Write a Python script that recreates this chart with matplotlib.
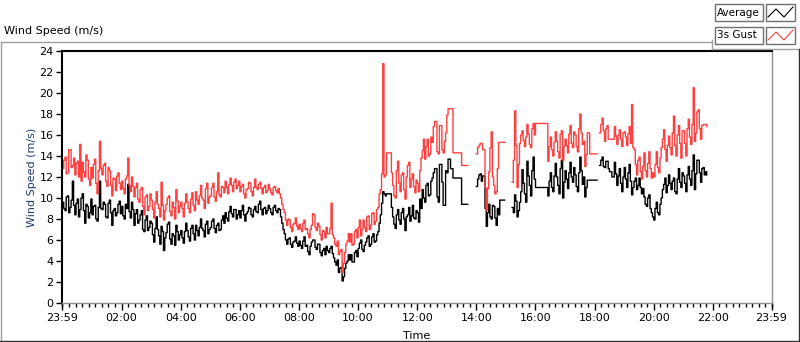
import numpy as np
import matplotlib.pyplot as plt
from matplotlib.lines import Line2D
from matplotlib.patches import Rectangle

nan = np.nan

# 2.5-minute samples, one row per hour (hours since midnight)
avg_rows = [
    [9.6, 9.0, 8.8, 10.1, 10.2, 8.6, 9.1, 9.8, 11.6, 9.3, 8.4, 9.5,
     9.9, 8.2, 8.9, 10.0, 10.4, 8.8, 7.6, 9.4, 9.2, 8.1, 8.6, 9.9],
    [8.4, 9.2, 9.3, 8.0, 7.8, 9.1, 11.6, 9.0, 8.9, 9.6, 9.4, 8.2,
     8.1, 9.5, 9.8, 8.6, 7.4, 8.8, 9.0, 8.3, 8.6, 9.4, 9.7, 8.5],
    [9.2, 8.3, 8.0, 9.4, 9.0, 11.3, 8.7, 8.1, 9.6, 8.9, 7.4, 8.5,
     8.9, 7.6, 7.9, 8.4, 8.8, 7.0, 6.8, 7.9, 8.3, 6.9, 7.2, 7.8],
    [7.6, 6.5, 5.8, 7.1, 8.2, 7.0, 6.4, 5.6, 7.3, 6.8, 5.0, 6.2,
     6.7, 7.5, 7.7, 6.1, 5.6, 6.6, 6.4, 5.5, 7.4, 6.8, 6.0, 6.5],
    [6.9, 6.2, 5.7, 6.8, 7.6, 6.9, 6.3, 5.9, 7.1, 7.4, 6.6, 6.0,
     7.4, 6.9, 6.4, 7.2, 8.0, 7.1, 6.9, 6.3, 7.5, 7.8, 6.6, 7.0],
    [7.2, 7.8, 8.0, 7.1, 6.7, 7.4, 7.6, 6.9, 7.0, 7.9, 8.3, 7.6,
     8.6, 8.1, 7.8, 8.7, 9.2, 8.5, 8.2, 8.9, 8.9, 8.0, 8.4, 8.8],
    [8.1, 8.8, 9.3, 8.4, 7.8, 8.5, 8.7, 9.1, 9.0, 8.4, 8.2, 8.9,
     9.2, 8.7, 8.6, 9.4, 9.7, 8.9, 8.4, 9.0, 9.1, 8.5, 8.8, 9.3],
    [9.0, 8.6, 8.4, 9.1, 9.3, 8.8, 8.6, 9.0, 8.9, 8.2, 7.6, 7.0,
     6.6, 6.0, 5.6, 6.1, 6.2, 5.6, 5.3, 5.8, 5.9, 6.3, 5.7, 5.4],
    [5.9, 5.5, 5.2, 5.9, 6.3, 5.4, 5.5, 4.9, 4.6, 5.4, 5.8, 6.0,
     6.0, 5.3, 5.1, 5.6, 5.6, 4.8, 4.5, 5.0, 5.2, 4.6, 5.4, 5.0],
    [4.8, 5.2, 5.4, 4.7, 4.3, 3.9, 3.6, 4.1, 2.9, 3.3, 3.4, 2.1,
     2.5, 3.3, 3.8, 4.0, 4.6, 4.1, 4.6, 3.9, 3.9, 4.8, 5.0, 4.4],
    [5.2, 5.7, 6.0, 5.1, 4.9, 5.5, 5.8, 6.2, 6.4, 5.4, 5.6, 6.3,
     6.6, 5.8, 5.9, 6.5, 6.8, 7.6, 8.4, 9.5, 10.6, 10.4, 10.2, 10.4],
    [10.4, 10.4, 10.4, 9.1, 8.2, 7.5, 7.1, 8.4, 8.9, 7.9, 7.5, 8.6,
     9.0, 8.0, 6.9, 8.2, 8.4, 9.1, 7.8, 8.3, 9.3, 8.1, 8.0, 8.8],
    [8.6, 7.7, 9.9, 9.0, 10.8, 10.0, 9.6, 11.2, 11.4, 10.2, 10.3, 11.6,
     11.9, 12.4, 12.8, 12.8, 10.1, 9.6, 13.2, 13.2, 11.5, 9.3, 9.3, 12.6],
    [12.4, 13.7, 13.7, 12.8, 12.8, 11.9, 11.9, 11.9, 11.9, 11.9, 11.9, 11.9,
     9.4, 9.4, 9.4, 9.4, 9.4, nan, nan, nan, nan, nan, nan, nan],
    [11.1, 11.8, 12.2, 12.3, 11.6, 12.1, 12.1, 9.0, 7.3, 8.6, 9.4, 8.2,
     8.0, 9.3, 9.2, 8.1, 7.4, 9.0, 8.4, 9.8, 9.8, 9.8, 9.8, nan],
    [nan, nan, nan, nan, nan, 9.1, 8.6, 10.3, 9.7, 8.2, 8.8, 9.6,
     10.6, 12.7, 11.4, 10.4, 9.6, 13.5, 12.1, 11.2, 10.2, 12.6, 13.9, 11.8],
    [11.0, 11.0, 11.0, 11.0, 11.0, 11.0, 11.0, 11.0, 11.0, 11.0, 10.2, 11.6,
     12.4, 11.0, 10.6, 12.1, 13.3, 12.0, 11.2, 10.4, 12.8, 13.6, 10.0, 11.5],
    [12.6, 11.8, 10.9, 12.4, 13.4, 12.0, 11.5, 12.9, 12.2, 11.1, 10.6, 12.4,
     13.9, 12.6, 11.3, 12.0, 10.1, 11.0, 11.7, 11.7, 11.7, 11.7, 11.7, 11.7],
    [11.7, 11.7, nan, nan, 13.1, 13.6, 13.9, 13.0, 12.9, 13.5, 13.5, 12.8,
     12.5, 12.5, 12.0, 12.0, 13.4, 12.3, 11.2, 12.1, 12.8, 11.4, 10.6, 12.0],
    [12.9, 11.8, 11.0, 12.4, 13.2, 11.6, 10.3, 11.0, 11.6, 11.9, 10.8, 11.2,
     11.9, 11.0, 10.4, 10.9, 10.1, 9.4, 9.2, 10.0, 10.3, 9.0, 8.6, 8.2],
    [7.9, 9.0, 9.6, 8.6, 8.4, 9.4, 10.0, 10.8, 11.3, 11.9, 10.5, 11.2,
     12.2, 11.4, 10.8, 11.6, 11.9, 10.6, 10.4, 11.8, 12.8, 11.5, 11.0, 12.4],
    [12.1, 11.4, 10.6, 12.2, 13.0, 11.8, 11.2, 12.6, 14.1, 10.8, 12.3, 13.6,
     13.6, 12.4, 11.5, 12.8, 12.9, 12.2, 12.5, 12.2],
]
gust_rows = [
    [12.8, 13.6, 13.9, 12.3, 12.4, 14.6, 14.6, 12.9, 13.1, 13.8, 12.2, 13.3,
     13.5, 12.0, 15.1, 11.6, 13.4, 12.5, 12.0, 14.1, 13.6, 11.8, 11.2, 12.9],
    [11.9, 13.2, 13.7, 11.4, 10.4, 12.6, 15.4, 12.8, 12.2, 13.1, 13.3, 11.6,
     11.1, 12.9, 12.6, 11.2, 10.2, 11.9, 11.8, 10.7, 12.1, 12.4, 11.4, 10.8],
    [11.6, 10.9, 10.4, 11.8, 12.1, 13.8, 11.2, 10.6, 12.0, 11.1, 10.1, 11.0,
     11.4, 9.9, 9.6, 10.8, 11.0, 9.2, 8.4, 10.1, 10.3, 8.8, 9.2, 10.4],
    [9.8, 8.9, 8.1, 9.6, 10.6, 9.4, 9.0, 8.2, 11.5, 9.3, 7.9, 8.8,
     9.4, 10.0, 10.2, 8.7, 8.3, 9.6, 9.1, 8.0, 10.8, 9.7, 8.6, 9.2],
    [9.6, 9.0, 8.2, 9.5, 10.4, 9.6, 9.0, 8.6, 9.9, 10.5, 9.3, 8.8,
     10.6, 9.8, 9.4, 10.2, 11.2, 10.0, 9.8, 9.0, 10.9, 11.4, 9.5, 10.1],
    [10.2, 11.0, 11.4, 10.1, 9.7, 10.6, 12.4, 10.3, 10.1, 11.1, 11.0, 10.5,
     11.6, 11.0, 10.4, 11.3, 11.9, 11.2, 10.6, 11.5, 11.8, 10.9, 11.2, 11.6],
    [10.6, 11.1, 11.3, 10.4, 10.0, 10.8, 10.9, 11.5, 11.4, 10.6, 10.2, 11.0,
     11.8, 11.0, 10.8, 11.3, 11.5, 10.9, 10.4, 11.0, 11.2, 10.5, 10.7, 11.3],
    [10.9, 10.5, 10.3, 11.0, 11.1, 10.7, 10.5, 10.9, 10.4, 10.0, 9.4, 8.9,
     8.6, 7.9, 7.4, 8.0, 7.9, 7.2, 6.8, 7.5, 7.6, 8.1, 7.3, 7.0],
    [7.5, 7.1, 6.8, 7.6, 7.9, 7.0, 7.1, 6.6, 6.2, 7.0, 7.4, 8.5,
     8.4, 7.2, 6.9, 7.6, 7.3, 6.5, 6.0, 6.9, 6.8, 6.2, 7.2, 6.6],
    [6.6, 7.1, 9.5, 6.5, 6.2, 5.6, 5.4, 5.9, 4.6, 4.9, 5.1, 2.9,
     3.8, 4.8, 5.6, 5.9, 6.6, 5.8, 6.6, 5.5, 5.6, 6.8, 7.0, 6.2],
    [7.2, 7.9, 6.4, 7.0, 7.9, 7.2, 6.8, 8.2, 8.3, 7.0, 7.4, 8.5,
     8.6, 7.5, 7.8, 8.9, 9.1, 10.4, 10.8, 12.3, 22.8, 12.0, 12.2, 14.3],
    [14.3, 14.3, 14.3, 12.4, 11.2, 10.2, 10.0, 12.6, 13.5, 11.4, 10.6, 12.2,
     12.4, 10.8, 9.9, 12.0, 13.1, 13.4, 11.0, 11.8, 12.3, 11.1, 10.5, 11.7],
    [11.4, 10.6, 12.6, 13.8, 14.5, 15.6, 13.7, 14.9, 15.6, 14.0, 14.2, 15.8,
     15.3, 16.8, 17.3, 17.3, 14.4, 14.2, 16.9, 16.9, 14.6, 14.3, 15.4, 16.2],
    [17.9, 18.5, 18.5, 18.5, 18.5, 14.3, 14.3, 14.3, 14.3, 14.3, 14.3, 14.3,
     13.1, 13.1, 13.1, 13.1, 13.1, nan, nan, nan, nan, nan, nan, nan],
    [14.2, 14.8, 15.0, 15.2, 15.2, 14.6, 14.6, 11.0, 8.8, 10.9, 12.5, 14.8,
     16.3, 12.0, 11.2, 10.4, 10.6, 12.8, 15.3, 15.3, 15.3, 15.3, 15.3, nan],
    [nan, nan, nan, nan, nan, 11.5, 13.6, 18.3, 15.0, 11.0, 13.2, 15.2,
     16.0, 16.4, 15.5, 14.9, 15.8, 17.0, 16.1, 15.1, 14.8, 16.6, 17.1, 16.0],
    [17.1, 17.1, 17.1, 17.1, 17.1, 17.1, 17.1, 17.1, 17.1, 17.1, 13.5, 14.9,
     15.8, 14.6, 14.0, 15.3, 16.3, 15.4, 14.4, 13.8, 16.1, 16.4, 13.6, 14.9],
    [15.6, 15.0, 14.3, 16.1, 16.9, 15.2, 14.8, 16.3, 16.0, 14.9, 14.4, 16.6,
     18.0, 16.2, 15.1, 15.4, 13.0, 14.1, 16.2, 16.2, 14.2, 14.2, 14.2, 14.2],
    [14.2, 14.2, nan, nan, 16.2, 17.0, 17.6, 16.4, 15.4, 16.6, 16.9, 15.6,
     15.6, 15.6, 15.6, 15.6, 16.8, 15.9, 15.1, 16.0, 16.5, 15.6, 14.9, 16.2],
    [16.3, 15.8, 15.0, 16.1, 16.8, 15.2, 18.9, 14.8, 14.6, 13.2, 12.2, 13.6,
     13.9, 12.5, 11.8, 13.0, 14.3, 12.6, 12.0, 13.3, 14.4, 12.8, 11.9, 12.4],
    [12.0, 13.2, 14.4, 12.9, 12.4, 13.8, 14.8, 15.6, 16.5, 14.6, 13.5, 15.0,
     15.9, 14.8, 14.1, 16.2, 17.8, 15.0, 14.0, 16.0, 16.9, 15.2, 13.8, 16.4],
    [16.4, 15.2, 14.0, 16.6, 17.5, 15.8, 15.1, 17.0, 20.5, 15.4, 16.2, 18.2,
     18.4, 16.6, 15.6, 16.9, 17.0, 17.0, 17.0, 16.8],
]

avg = np.array([v for row in avg_rows for v in row])
gust = np.array([v for row in gust_rows for v in row])
hours = np.arange(len(avg)) / 24.0

xticks = [-1/60] + list(range(2, 23, 2)) + [24 - 1/60]
xlabels = ['23:59'] + ['%02d:00' % h for h in range(2, 23, 2)] + ['23:59']

W, H = 800, 342
plt.rcParams['font.family'] = ['DejaVu Sans']
fig = plt.figure(figsize=(W/100, H/100), dpi=100)

def fx(x):
    return x / W

def fy(y):
    return 1 - y / H

ax = fig.add_axes([fx(62), fy(303), fx(772) - fx(62), fy(51) - fy(303)])
ax.plot(hours, avg, color='black', lw=1.0, drawstyle='steps-post')
ax.plot(hours, gust, color='#ff4040', lw=1.0, drawstyle='steps-post')

ax.set_xlim(-1/60, 24 - 1/60)
ax.set_ylim(0, 24)
ax.set_yticks(range(0, 25, 2))
ax.set_xticks(xticks)
ax.set_xticklabels(xlabels)
ax.set_xticks(np.arange(0, 24.01, 2/9), minor=True)
ax.tick_params(axis='x', which='major', length=5, width=1, labelsize=8, pad=2)
ax.tick_params(axis='x', which='minor', length=3, width=1)
ax.tick_params(axis='y', length=4, width=1, labelsize=8, pad=2)
for s in ['top', 'left']:
    ax.spines[s].set_color('black')
    ax.spines[s].set_linewidth(1.5)
for s in ['right', 'bottom']:
    ax.spines[s].set_color('#909090')
    ax.spines[s].set_linewidth(1)
ax.set_xlabel('Time', fontsize=8, labelpad=6)
ax.set_ylabel('Wind Speed (m/s)', fontsize=8, color='#1f3a6b', labelpad=2)

# outer panel
def fline(xs, ys, color, lw=1):
    fig.add_artist(Line2D([fx(x) for x in xs], [fy(y) for y in ys], color=color, lw=lw))

fline([0.5, 712], [42, 42], '#a0a0a0')
fline([712, 712], [40, 49], '#a0a0a0')
fline([712, 800], [49, 49], '#a0a0a0')
fline([0.5, 0.5], [42, 341], '#a0a0a0')
fline([0, 799], [340.5, 340.5], '#303030')
fline([798.5, 798.5], [49, 341], '#303030')

fig.text(fx(4), fy(31), 'Wind Speed (m/s)', fontsize=8, ha='left', va='center')

# legend
names = ['Average', '3s Gust']
colors = ['black', '#ff4040']
for i, (name, c) in enumerate(zip(names, colors)):
    y0 = 4 + i * 23
    fig.add_artist(Rectangle((fx(715), fy(y0 + 17)), fx(48), 17 / H, fill=False,
                             edgecolor='#707070', lw=1, transform=fig.transFigure))
    fig.add_artist(Rectangle((fx(766), fy(y0 + 17)), fx(29), 17 / H, fill=False,
                             edgecolor='#707070', lw=1, transform=fig.transFigure))
    fig.text(fx(717), fy(y0 + 8.5), name, fontsize=7.5, ha='left', va='center')
    fline([768, 776, 784, 793], [y0 + 13, y0 + 5, y0 + 13, y0 + 3], c, lw=0.8)

fig.savefig('out.png', dpi=100)
